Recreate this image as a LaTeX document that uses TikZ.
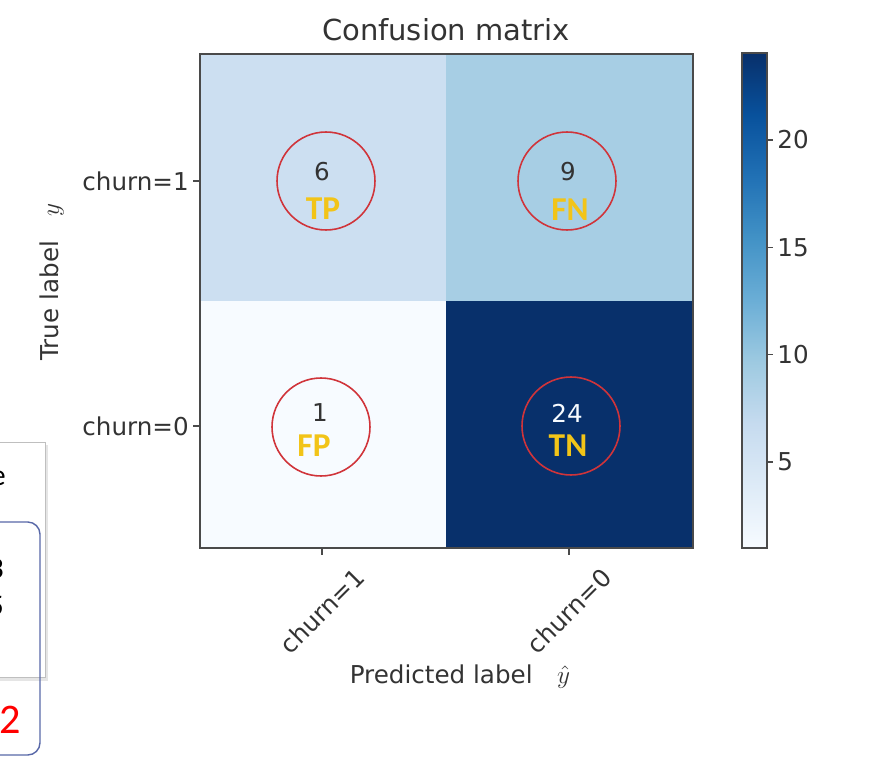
\documentclass[tikz,border=0pt]{standalone}
\usepackage{fontspec}
\setmainfont{DejaVu Sans}
\newfontfamily\slidefont{Carlito}
\usepackage{tikz}
\usetikzlibrary{positioning}
% Blues colour map
\definecolor{blue0}{HTML}{F7FBFF}
\definecolor{blue1}{HTML}{DEEBF7}
\definecolor{blue2}{HTML}{C6DBEF}
\definecolor{blue3}{HTML}{9ECAE1}
\definecolor{blue4}{HTML}{6BAED6}
\definecolor{blue5}{HTML}{4292C6}
\definecolor{blue6}{HTML}{2171B5}
\definecolor{blue7}{HTML}{08519C}
\definecolor{blue8}{HTML}{08306B}
\definecolor{cellTP}{HTML}{CCDFF1}
\definecolor{cellFN}{HTML}{A7CEE4}
\definecolor{cellFP}{HTML}{F7FBFF}
\definecolor{cellTN}{HTML}{08306B}
\definecolor{tagcol}{HTML}{F2C418}
\definecolor{ringcol}{HTML}{D0343A}
\definecolor{spinecol}{HTML}{4A4A4A}
\definecolor{ink}{HTML}{333333}
\definecolor{framecol}{HTML}{5868A8}
\pgfdeclareverticalshading{blues}{100bp}{color(0bp)=(blue0); color(25bp)=(blue0); color(31.25bp)=(blue1); color(37.5bp)=(blue2); color(43.75bp)=(blue3); color(50bp)=(blue4); color(56.25bp)=(blue5); color(62.5bp)=(blue6); color(68.75bp)=(blue7); color(75bp)=(blue8); color(100bp)=(blue8)}
\tikzstyle{spine}=[draw=spinecol,line width=0.9pt]
\tikzstyle{ticklab}=[font=\fontsize{14}{16}\selectfont,text=ink,inner sep=0pt]
\tikzstyle{titlelab}=[font=\fontsize{16.5}{19}\selectfont,text=ink,inner sep=0pt]
\tikzstyle{ring}=[circle,draw=ringcol,line width=0.9pt,minimum size=1.96cm,inner sep=0pt]
\tikzstyle{tag}=[font=\slidefont\bfseries\fontsize{19}{21}\selectfont,text=tagcol,inner sep=0pt]
\tikzstyle{slidetext}=[font=\slidefont\fontsize{17}{20}\selectfont,inner sep=0pt,anchor=east]

\begin{document}
\begin{tikzpicture}[x=0.02cm,y=-0.02cm]
    \useasboundingbox (0,0) rectangle (879,767);
    \clip (0,0) rectangle (879,767);
    % Slide fragments cut by the left edge
    \fill[black!10] (-60,445) rectangle (48,681);
    \filldraw[fill=white,draw=black!25] (-60,442) rectangle (45,677);
    \draw[framecol,line width=0.8pt,rounded corners=7pt] (-60,522) rectangle (40,755);
    \node[slidetext] (fragE) at (6,478) {e};
    \node[slidetext] (fragA) at (4,569) {3};
    \node[slidetext] (fragB) at (4,606) {5};
    \node[slidetext,text=red,font=\slidefont\fontsize{24}{26}\selectfont] (fragC) at (21,720) {2};

    % The four cells
    \fill[cellTP] (200,54) rectangle (446,301);
    \fill[cellFN] (446,54) rectangle (693,301);
    \fill[cellFP] (200,301) rectangle (446,548);
    \fill[cellTN] (446,301) rectangle (693,548);
    \draw[spine] (200,54) rectangle (693,548);
    \node[titlelab] (title) at (446,30) {Confusion matrix};

    % Axis ticks and labels
    \foreach \y/\name/\lab in {181/row1/churn=1, 426/row0/churn=0} {
        \draw[spine] (193,\y) -- (200,\y);
        \node[ticklab,anchor=east] (\name) at (189,\y) {\lab};
    }
    \foreach \x/\name/\lab in {322/col1/churn=1, 569/col0/churn=0} {
        \draw[spine] (\x,548) -- (\x,555);
        \node[ticklab,rotate=45] (\name) at (\x,611) {\lab};
    }
    \node[ticklab,rotate=90] (ylab) at (52,282) {True label\quad$y$};
    \node[ticklab] (xlab) at (460,677) {Predicted label\quad$\hat{y}$};

    % Colour bar
    \shade[shading=blues] (742,53) rectangle (767,548);
    \draw[spine] (742,53) rectangle (767,548);
    \foreach \v in {5,10,15,20} {
        \pgfmathsetmacro{\yv}{548-(\v-1)*494/23}
        \draw[spine] (767,\yv) -- (773,\yv);
        \node[ticklab,anchor=west] (cb\v) at (777,\yv) {\v};
    }

    % Counts, tags and rings
    \foreach \pos/\name/\val/\col in {{(322,172)/TP/6/ink}, {(568,172)/FN/9/ink}, {(320,413)/FP/1/ink}, {(567,413)/TN/24/blue0}}
        \node[ticklab,text=\col] (v\name) at \pos {\val};
    \foreach \pos/\name in {{(323,209)/TP}, {(570,210)/FN}, {(314,446)/FP}, {(568,446)/TN}}
        \node[tag] (t\name) at \pos {\name};
    \foreach \pos/\name in {{(326,181)/TP}, {(567,181)/FN}, {(321,427)/FP}, {(571,426)/TN}}
        \node[ring] (r\name) at \pos {};
\end{tikzpicture}
\end{document}
